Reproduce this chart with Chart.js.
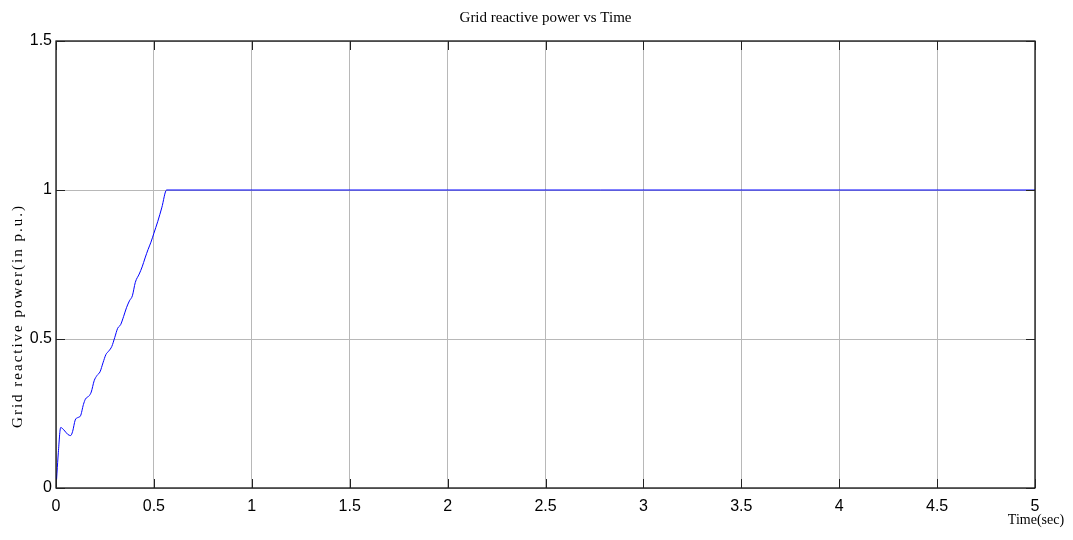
<!DOCTYPE html>
<html>
<head>
<meta charset="utf-8">
<script src="https://cdn.jsdelivr.net/npm/chart.js@4.4.1/dist/chart.umd.min.js"></script>
<style>
  html, body { margin: 0; padding: 0; background: #fff; }
  #wrap { width: 1073px; height: 540px; position: relative; }
</style>
</head>
<body>
<div id="wrap"><canvas id="c" width="1073" height="540"></canvas></div>
<script>
// ---- data ----
const chartTitle = "Grid reactive power vs Time";
const xLabel = "Time(sec)";
const yLabel = "Grid reactive power(in p.u.)";
const times = [0, 0.005, 0.012, 0.024, 0.04, 0.06, 0.075, 0.085, 0.098, 0.11, 0.125, 0.14, 0.15, 0.17, 0.18,
  0.195, 0.21, 0.225, 0.24, 0.255, 0.27, 0.285, 0.3, 0.315, 0.33, 0.345, 0.36, 0.375, 0.39, 0.405,
  0.425, 0.44, 0.455, 0.47, 0.485, 0.5, 0.52, 0.54, 0.565, 5];
const power = [0, 0.05, 0.12, 0.203, 0.195, 0.18, 0.176, 0.19, 0.228, 0.236, 0.242, 0.28, 0.298, 0.31, 0.322,
  0.36, 0.378, 0.39, 0.42, 0.448, 0.46, 0.475, 0.505, 0.536, 0.548, 0.575, 0.605, 0.628, 0.645, 0.69,
  0.718, 0.742, 0.772, 0.8, 0.825, 0.855, 0.895, 0.94, 1.0, 1.0];
const xTicks = [0, 0.5, 1, 1.5, 2, 2.5, 3, 3.5, 4, 4.5, 5];
const xTickLabels = ["0", "0.5", "1", "1.5", "2", "2.5", "3", "3.5", "4", "4.5", "5"];
const yTicks = [0, 0.5, 1, 1.5];
const yTickLabels = ["0", "0.5", "1", "1.5"];

const points = times.map((t, i) => ({ x: t, y: power[i] }));

const framePlugin = {
  id: 'frame',
  afterDraw(chart) {
    const { ctx, chartArea: a, scales } = chart;
    const xs = scales.x, ys = scales.y;
    ctx.save();
    ctx.strokeStyle = '#000';
    ctx.lineWidth = 1.2;
    ctx.strokeRect(a.left, a.top, a.right - a.left, a.bottom - a.top);
    const tl = 9;
    ctx.lineWidth = 1;
    ctx.strokeStyle = '#222';
    ctx.beginPath();
    xTicks.forEach(v => {
      const p = Math.round(xs.getPixelForValue(v)) + 0.5;
      ctx.moveTo(p, a.bottom); ctx.lineTo(p, a.bottom - tl);
      ctx.moveTo(p, a.top); ctx.lineTo(p, a.top + tl);
    });
    yTicks.forEach(v => {
      const p = Math.round(ys.getPixelForValue(v)) + 0.5;
      ctx.moveTo(a.left, p); ctx.lineTo(a.left + tl, p);
      ctx.moveTo(a.right, p); ctx.lineTo(a.right - tl, p);
    });
    ctx.stroke();

    ctx.fillStyle = '#000';
    ctx.textAlign = 'center';
    ctx.textBaseline = 'middle';
    ctx.font = '15px "Liberation Serif", "Times New Roman", serif';
    ctx.fillText(chartTitle, (a.left + a.right) / 2, 18);

    ctx.font = '14px "Liberation Serif", "Times New Roman", serif';
    ctx.fillText(xLabel, a.right + 1, 520);

    ctx.save();
    ctx.translate(18, 316);
    ctx.rotate(-Math.PI / 2);
    ctx.font = '15px "Liberation Serif", "Times New Roman", serif';
    try { ctx.letterSpacing = '2px'; } catch (e) {}
    ctx.fillText(yLabel, 0, 0);
    ctx.restore();
    ctx.restore();
  }
};

new Chart(document.getElementById('c'), {
  type: 'line',
  data: {
    datasets: [{
      data: points,
      borderColor: '#0000ff',
      borderWidth: 1,
      pointRadius: 0,
      fill: false,
      cubicInterpolationMode: 'monotone'
    }]
  },
  options: {
    responsive: false,
    animation: false,
    layout: { padding: { top: 41, right: 38, bottom: 0, left: 0 } },
    plugins: { legend: { display: false }, title: { display: false }, tooltip: { enabled: false } },
    scales: {
      x: {
        type: 'linear',
        min: 0, max: 5,
        afterBuildTicks: s => { s.ticks = xTicks.map(v => ({ value: v })); },
        afterFit: s => { s.height = 52; },
        grid: { color: '#b8b8b8', lineWidth: 1, drawTicks: false },
        border: { display: false },
        ticks: {
          color: '#000', padding: 9, maxRotation: 0,
          font: { family: '"Liberation Sans", Arial, sans-serif', size: 16 },
          callback: (v, i) => xTickLabels[i]
        }
      },
      y: {
        type: 'linear',
        min: 0, max: 1.5,
        afterBuildTicks: s => { s.ticks = yTicks.map(v => ({ value: v })); },
        afterFit: s => { s.width = 56; },
        grid: { color: '#b8b8b8', lineWidth: 1, drawTicks: false },
        border: { display: false },
        ticks: {
          color: '#000', padding: 4,
          font: { family: '"Liberation Sans", Arial, sans-serif', size: 16 },
          callback: (v, i) => yTickLabels[i]
        }
      }
    }
  },
  plugins: [framePlugin]
});
</script>
</body>
</html>
